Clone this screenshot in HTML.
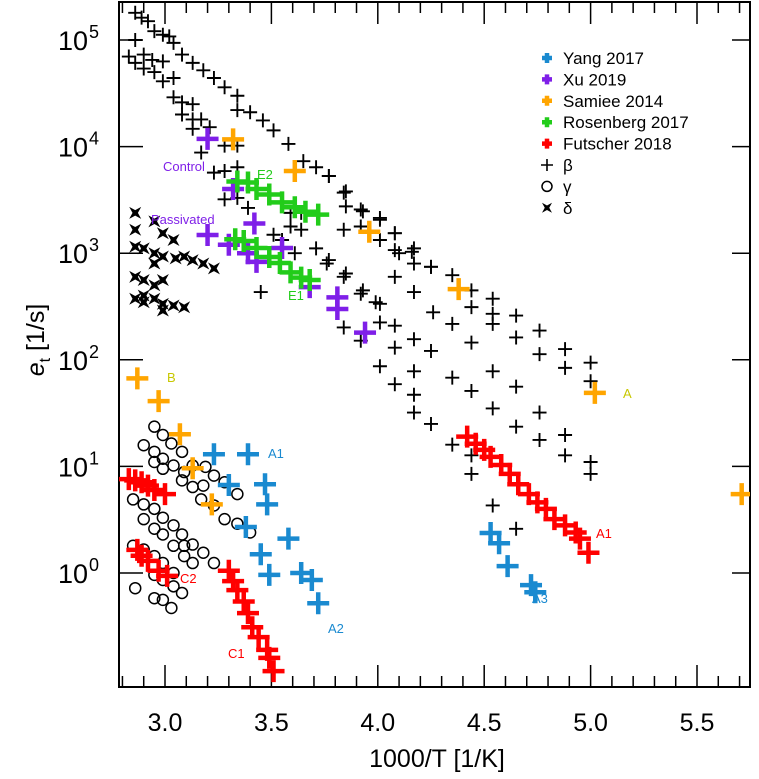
<!DOCTYPE html>
<html><head><meta charset="utf-8"><style>
html,body{margin:0;padding:0;background:#fff;}
svg{display:block;font-family:"Liberation Sans",Arial,sans-serif;}
</style></head><body>
<svg id="chart" width="759" height="779" viewBox="0 0 759 779">
<defs><clipPath id="clip"><rect x="119" y="2" width="631" height="685"/></clipPath></defs>
<g id="axes"></g>
<g id="plot" clip-path="url(#clip)"></g>
<g id="annots"></g>
<g id="legend"></g>
</svg>
<script>
const xTicks=[3.0,3.5,4.0,4.5,5.0,5.5];
const xTickLabels=["3.0","3.5","4.0","4.5","5.0","5.5"];
const yTicks=[0,1,2,3,4,5];
const yangX=[3.23,3.39,3.30,3.47,3.48,3.58,3.38,3.45,3.49,3.64,3.69,3.72,4.53,4.57,4.61,4.72,4.74];
const yangY=[13,13,6.7,6.8,4.4,2.1,2.7,1.5,0.96,1.0,0.86,0.52,2.37,1.9,1.16,0.77,0.66];
const xuX=[3.20,3.32,3.42,3.20,3.30,3.39,3.55,3.43,3.68,3.81,3.81,3.94];
const xuY=[11800,4000,1900,1480,1200,1000,1120,830,480,385,300,180];
const samieeX=[2.87,2.97,3.07,3.13,3.22,3.32,3.61,3.96,4.38,5.02,5.71];
const samieeY=[67,41,20,9.6,4.4,11700,5900,1590,460,49,5.5];
const rosenbergX=[3.34,3.39,3.43,3.49,3.55,3.61,3.66,3.72,3.33,3.37,3.43,3.49,3.54,3.59,3.64,3.68];
const rosenbergY=[4700,4600,4000,3550,3000,2700,2450,2300,1350,1300,1120,920,810,660,590,560];
const futscherX=[2.83,2.86,2.89,2.92,2.95,3.00,2.87,2.89,2.92,2.97,3.01,3.30,3.32,3.34,3.37,3.39,3.41,3.44,3.48,3.49,3.51,4.42,4.46,4.50,4.53,4.58,4.62,4.66,4.71,4.75,4.79,4.83,4.88,4.93,4.95,4.99];
const futscherY=[7.6,7.4,7.1,6.6,6.0,5.5,1.65,1.45,1.3,1.05,0.94,1.05,0.84,0.69,0.54,0.42,0.31,0.25,0.19,0.16,0.12,19,16.3,14.3,12.3,10.3,8.5,6.8,5.5,4.6,4.0,3.2,2.8,2.4,2.1,1.55];
const betaX=[2.86,2.89,2.92,2.95,2.99,3.02,3.04,3.08,3.13,3.18,3.23,3.28,3.34,3.34,3.40,3.46,3.51,3.58,3.65,3.71,3.77,3.85,3.85,3.93,4.01,4.08,4.10,4.16,4.25,
2.86,2.83,2.86,2.90,2.94,2.99,2.90,2.95,2.99,3.04,3.04,3.08,3.13,3.08,3.13,3.17,3.13,3.21,3.17,3.28,3.34,3.23,3.28,3.34,3.28,3.34,3.39,3.51,3.59,3.64,3.45,3.55,3.61,3.71,3.76,3.85,3.93,3.99,4.08,4.17,4.26,3.64,3.59,
3.77,3.84,3.92,4.01,3.84,3.92,4.01,4.08,4.08,4.17,4.17,4.25,4.35,4.44,4.44,4.54,4.54,4.54,4.65,4.65,4.76,4.76,4.88,4.88,5.00,5.00,3.77,3.84,3.92,4.01,4.01,3.84,3.92,4.08,4.08,4.17,4.25,4.35,4.44,4.01,4.08,4.17,4.35,4.44,4.54,4.65,4.17,4.17,4.25,4.35,4.44,4.44,4.54,4.65,4.76,4.76,4.88,4.88,5.00,5.00,4.54,4.65];
const betaY=[180000,162000,150000,121000,112000,108000,94000,73000,61000,52000,44000,36000,30000,22000,21000,17600,14200,10600,7300,6400,5300,3800,2750,2470,2060,1540,1000,1030,745,
100000,70000,61000,73000,65000,63000,54000,50000,41000,44000,29000,26000,25000,20000,18000,18000,14700,15200,8800,10200,10200,5700,5900,6400,3200,3300,2660,1490,1780,1660,432,1330,1000,1110,800,645,448,347,600,432,279,2390,2390,
5300,3700,2570,2140,1660,1780,1330,1540,1070,1110,800,745,622,448,312,374,270,217,260,162,188,113,126,84,94,63,863,600,417,335,224,201,151,209,130,156,121,217,145,87,59,78,68,51,78,56,47,32,25,16,12.7,8.5,35,23.6,32,17.7,19.7,12.7,11,8.5,4.3,2.6];
const gammaX=[2.95,2.99,3.03,3.08,2.90,2.95,2.99,3.04,3.09,3.13,3.19,3.23,3.28,3.34,2.95,2.99,3.08,3.13,3.18,3.17,3.23,3.28,3.34,3.40,2.85,2.90,2.95,2.99,3.04,3.08,2.90,2.95,2.99,3.04,3.09,3.13,3.18,3.23,2.85,2.90,2.95,2.99,3.04,3.09,3.13,2.86,2.95,2.99,3.03,3.08,2.95,2.99,3.04];
const gammaY=[23.6,19.7,16.4,13.7,15.8,13.7,11.8,10.2,8.85,10.2,9.9,8.2,7.1,5.5,11.0,9.5,7.4,6.4,6.6,4.9,4.3,3.2,2.9,2.4,4.9,4.4,4.0,3.3,2.8,2.3,3.2,2.6,2.3,1.8,1.8,1.85,1.55,1.24,1.8,1.66,1.44,1.24,1.0,1.44,1.24,0.72,0.58,0.56,0.47,0.65,0.96,0.86,0.75];
const deltaX=[2.86,2.86,2.95,2.99,3.04,2.86,2.90,2.95,2.99,3.05,3.09,3.13,3.18,3.23,2.95,2.86,2.90,2.95,2.99,2.86,2.90,2.95,2.99,3.04,3.09,2.99,2.90];
const deltaY=[2390,1660,1990,1540,1330,1150,1110,1000,930,895,930,860,800,720,800,600,560,500,560,374,400,374,335,323,311,290,347];

const NS="http://www.w3.org/2000/svg";
const X0=165, XS=212.8, Y0=573, YS=106.6;
function sx(v){return X0+(v-3)*XS;}
function sy(v){return Y0-Math.log10(v)*YS;}
function mk(tag,attrs,parent){const e=document.createElementNS(NS,tag);for(const k in attrs)e.setAttribute(k,attrs[k]);parent.appendChild(e);return e;}
const axes=document.getElementById('axes'),plot=document.getElementById('plot'),ann=document.getElementById('annots'),leg=document.getElementById('legend');
const L=119,R=750,T=2,B=687;
const frame=mk('rect',{x:L,y:T,width:R-L,height:B-T,fill:'none',stroke:'#000','stroke-width':2},axes);


for(let v=2.8;v<=5.75;v+=0.1){
  const r=Math.round(v*10)/10;const major=Math.abs(r*2-Math.round(r*2))<1e-6;
  const len=major?22:11;const x=sx(r);
  const tb=mk('line',{x1:x,x2:x,y1:B,y2:B-len,stroke:'#000','stroke-width':1.5},axes);
  
  
  const tt=mk('line',{x1:x,x2:x,y1:T,y2:T+len,stroke:'#000','stroke-width':1.5},axes);
  
  
}
xTicks.forEach((v,i)=>{
  const t=mk('text',{x:sx(v),y:731,'text-anchor':'middle','font-size':25},axes);t.textContent=xTickLabels[i];
  
  
});
yTicks.forEach(p=>{
  const y=sy(Math.pow(10,p));
  const a=mk('line',{x1:L,x2:L+24,y1:y,y2:y,stroke:'#000','stroke-width':1.5},axes);
  
  
  const b=mk('line',{x1:R,x2:R-18,y1:y,y2:y,stroke:'#000','stroke-width':1.5},axes);
  
  
  const t=mk('text',{x:88,y:y+10,'text-anchor':'end','font-size':27},axes);t.textContent='10';
  
  
  const s=mk('text',{x:89,y:y-2,'font-size':18},axes);s.textContent=String(p);
  
  
});
const xt=mk('text',{x:437,y:767,'text-anchor':'middle','font-size':25},axes);xt.textContent='1000/T [1/K]';


const yt=mk('text',{x:0,y:0,'text-anchor':'middle','font-size':25,transform:'translate(44,340) rotate(-90)'},axes);
yt.innerHTML='<tspan font-style="italic">e</tspan><tspan font-size="16" dy="6">t</tspan><tspan dy="-6"> [1/s]</tspan>';



function plus(g,x,y,h,w,c){return mk('path',{d:`M${x-h},${y}H${x+h}M${x},${y-h}V${y+h}`,stroke:c,'stroke-width':w,fill:'none'},g);}
function bow(g,x,y,s,c){return mk('path',{d:`M${x-s},${y-s}L${x},${y-s*0.45}L${x+s},${y-s}L${x+s*0.45},${y}L${x+s},${y+s}L${x},${y+s*0.45}L${x-s},${y+s}L${x-s*0.45},${y}Z`,fill:c},g);}

betaX.forEach((v,i)=>{const e=plus(plot,sx(v),sy(betaY[i]),7,1.9,'#000');
  
  });
gammaX.forEach((v,i)=>{const e=mk('circle',{cx:sx(v),cy:sy(gammaY[i]),r:5.5,fill:'none',stroke:'#000','stroke-width':1.5},plot);
  
  });
deltaX.forEach((v,i)=>{const e=bow(plot,sx(v),sy(deltaY[i]),6,'#000');
  
  });
const series=[[samieeX,samieeY,'#ffa500','samiee-2014-point'],[xuX,xuY,'#7f1fe8','xu-2019-point'],[rosenbergX,rosenbergY,'#22cc1a','rosenberg-2017-point'],[yangX,yangY,'#1a8ad0','yang-2017-point'],[futscherX,futscherY,'#ff0000','futscher-2018-point']];
series.forEach(s=>{s[0].forEach((v,i)=>{const e=plus(plot,sx(v),sy(s[1][i]),11,4.5,s[2]);
  
  });});

const labels=[["Control",163,171,'#7f1fe8'],["Passivated",151,224,'#7f1fe8'],["E2",257,179,'#22cc1a'],["E1",288,300,'#22cc1a'],["B",167,382,'#c8c800'],["A1",268,458,'#1a8ad0'],["C2",180,583,'#ff0000'],["C1",228,658,'#ff0000'],["A2",328,633,'#1a8ad0'],["A3",532,603,'#1a8ad0'],["A1",596,538,'#ff0000'],["A",623,398,'#c8c800']];
labels.forEach(l=>{const t=mk('text',{x:l[1],y:l[2],'font-size':13,fill:l[3]},ann);t.textContent=l[0];
  
  });

const legNames=["Yang 2017","Xu 2019","Samiee 2014","Rosenberg 2017","Futscher 2018","β","γ","δ"];
const legColors=['#1a8ad0','#7f1fe8','#ffa500','#22cc1a','#ff0000','#000','#000','#000'];
legNames.forEach((n,i)=>{
  const y=58+i*21.4;
  const g=mk('g',{},leg);
  
  
  if(i<5)plus(g,547,y,5,4.5,legColors[i]);
  else if(i==5)plus(g,547,y,6,1.6,'#000');
  else if(i==6)mk('circle',{cx:547,cy:y,r:5,fill:'none',stroke:'#000','stroke-width':1.5},g);
  else bow(g,547,y,5,'#000');
  const t=mk('text',{x:563,y:y+6,'font-size':17},g);t.textContent=n;
});
</script>
</body></html>
